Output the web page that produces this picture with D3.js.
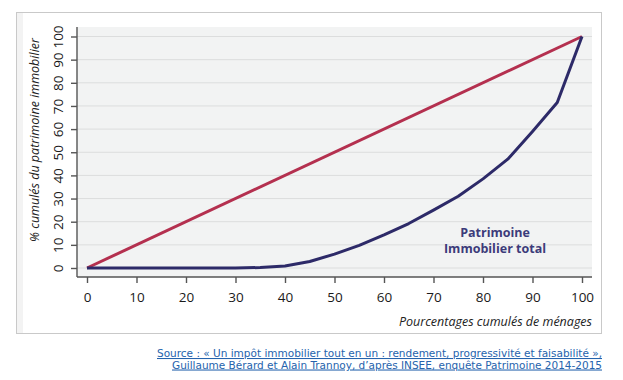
<!DOCTYPE html>
<html>
<head>
<meta charset="utf-8">
<script src="https://cdn.jsdelivr.net/npm/d3@7"></script>
<style>
  body { margin: 0; background: #fff; }
  svg { display: block; }
</style>
</head>
<body>
<svg id="chart" width="623" height="380"></svg>
<script>
// data
const xTicks = [0, 10, 20, 30, 40, 50, 60, 70, 80, 90, 100];
const yTicks = [0, 10, 20, 30, 40, 50, 60, 70, 80, 90, 100];
const menages = [0, 5, 10, 15, 20, 25, 30, 35, 40, 45, 50, 55, 60, 65, 70, 75, 80, 85, 90, 95, 100];
const patrimoine = [0, 0, 0, 0, 0, 0, 0, 0.2, 0.9, 2.8, 6, 9.8, 14.3, 19.2, 25, 31, 38.5, 47, 59, 71.5, 100];
const egalite = [0, 100];
const seriesLabel = ["Patrimoine", "Immobilier total"];
const yTitle = "% cumulés du patrimoine immobilier";
const xTitle = "Pourcentages cumulés de ménages";
const source = [
  "Source : « Un impôt immobilier tout en un : rendement, progressivité et faisabilité »,",
  "Guillaume Bérard et Alain Trannoy, d’après INSEE, enquête Patrimoine 2014-2015"
];

const svg = d3.select("#chart");
const font = "'Open Sans', sans-serif";

// outer frame
svg.append("rect")
  .attr("x", 16.5).attr("y", 12.5).attr("width", 585).attr("height", 321)
  .attr("fill", "#fff").attr("stroke", "#c9c9c9");
svg.append("rect")
  .attr("x", 17).attr("y", 13).attr("width", 6).attr("height", 320)
  .attr("fill", "#f3f3f3");

const x = d3.scaleLinear().domain([0, 100]).range([87, 582]);
const y = d3.scaleLinear().domain([0, 100]).range([268, 36.5]);

const pLeft = 77, pRight = 592, pTop = 27, pBottom = 277;

// plot background
svg.append("rect")
  .attr("x", pLeft).attr("y", pTop).attr("width", pRight - pLeft).attr("height", pBottom - pTop)
  .attr("fill", "#f2f3f3");

// grid
svg.append("g").selectAll("line").data(yTicks).join("line")
  .attr("x1", pLeft).attr("x2", pRight)
  .attr("y1", d => y(d)).attr("y2", d => y(d))
  .attr("stroke", "#dcdddd").attr("stroke-width", 1);

// axes
const yAxis = svg.append("g")
  .attr("transform", `translate(${pLeft},0)`)
  .call(d3.axisLeft(y).tickValues(yTicks).tickSize(6).tickSizeOuter(0).tickPadding(4));
yAxis.select(".domain").attr("d", `M0,${pTop}V${pBottom}`);
yAxis.selectAll(".tick text")
  .attr("transform", "rotate(-90)")
  .attr("x", 0).attr("y", -18).attr("dy", "0.32em")
  .attr("text-anchor", "middle");

const xAxis = svg.append("g")
  .attr("transform", `translate(0,${pBottom})`)
  .call(d3.axisBottom(x).tickValues(xTicks).tickSize(6).tickSizeOuter(0).tickPadding(9));
xAxis.select(".domain").attr("d", `M${pLeft},0H${pRight}`);

svg.selectAll(".tick text")
  .attr("font-family", font).attr("font-size", 13.5).attr("fill", "#1a1a1a");
svg.selectAll(".domain, .tick line")
  .attr("stroke", "#555").attr("stroke-width", 1.4);

// axis titles
svg.append("text")
  .attr("transform", "translate(39,140) rotate(-90)")
  .attr("text-anchor", "middle")
  .attr("font-family", font).attr("font-style", "italic").attr("font-size", 12.5)
  .attr("fill", "#222")
  .text(yTitle);

svg.append("text")
  .attr("x", pRight).attr("y", 326)
  .attr("text-anchor", "end")
  .attr("font-family", font).attr("font-style", "italic").attr("font-size", 12.5)
  .attr("fill", "#222")
  .text(xTitle);

// lines
const line = d3.line().x(d => x(d[0])).y(d => y(d[1]));

svg.append("path")
  .datum(egalite.map(v => [v, v]))
  .attr("d", line)
  .attr("fill", "none").attr("stroke", "#b4304f").attr("stroke-width", 3);

svg.append("path")
  .datum(menages.map((m, i) => [m, patrimoine[i]]))
  .attr("d", line)
  .attr("fill", "none").attr("stroke", "#2d2a68").attr("stroke-width", 3)
  .attr("stroke-linejoin", "round");

// series label
svg.append("text")
  .attr("x", 495).attr("y", 237)
  .attr("text-anchor", "middle")
  .attr("font-family", font).attr("font-weight", "bold").attr("font-size", 12.5)
  .attr("fill", "#3c3b7a")
  .selectAll("tspan").data(seriesLabel).join("tspan")
  .attr("x", 495).attr("dy", (d, i) => i ? 15.5 : 0)
  .text(d => d);

// source
const srcWidths = [445, 430];
svg.append("g").selectAll("text").data(source).join("text")
  .attr("x", 602).attr("y", (d, i) => 357 + i * 11.5)
  .attr("text-anchor", "end")
  .attr("font-family", "'DejaVu Sans', Verdana, sans-serif").attr("font-size", 10.5)
  .attr("textLength", (d, i) => srcWidths[i]).attr("lengthAdjust", "spacingAndGlyphs")
  .attr("fill", "#2563ad")
  .attr("text-decoration", "underline")
  .text(d => d);
</script>
</body>
</html>
